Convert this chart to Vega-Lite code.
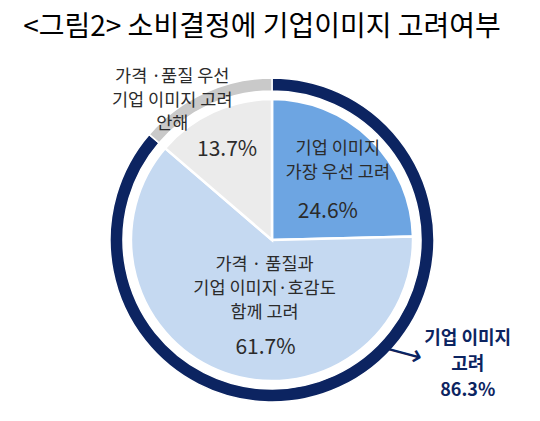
{
  "$schema": "https://vega.github.io/schema/vega-lite/v6.json",
  "autosize": {"type": "none"},
  "width": 536,
  "height": 362,
  "padding": {"left": 4, "top": 59, "right": 0, "bottom": 0},
  "title": {
    "text": "<그림2> 소비결정에 기업이미지 고려여부",
    "font": "Noto Sans CJK KR",
    "fontSize": 28,
    "fontWeight": "normal",
    "color": "#000000",
    "anchor": "middle",
    "baseline": "alphabetic",
    "dx": -10,
    "dy": 27,
    "offset": 22
  },
  "datasets": {
    "slices": [
      {"group": "기업 이미지 가장 우선 고려", "share": 24.6, "order": 1, "label": "기업 이미지\n가장 우선 고려", "pct": "24.6%"},
      {"group": "가격·품질과 기업 이미지·호감도 함께 고려", "share": 61.7, "order": 2, "label": "가격 · 품질과\n기업 이미지·호감도\n함께 고려", "pct": "61.7%"},
      {"group": "가격·품질 우선 기업 이미지 고려 안해", "share": 13.7, "order": 3, "label": "가격 ·품질 우선\n기업 이미지 고려\n안해", "pct": "13.7%"}
    ],
    "ring": [
      {"group": "기업 이미지 고려", "share": 86.3, "order": 1, "label": "기업 이미지\n고려\n86.3%"},
      {"group": "기업 이미지 고려 안해", "share": 13.7, "order": 2, "label": ""}
    ]
  },
  "layer": [
    {
      "data": {"name": "ring"},
      "mark": {"type": "arc", "outerRadius": 162, "innerRadius": 149, "stroke": "#ffffff", "strokeWidth": 1.5},
      "encoding": {
        "theta": {"field": "share", "type": "quantitative", "stack": true},
        "order": {"field": "order"},
        "color": {
          "field": "group",
          "type": "nominal",
          "scale": {
            "domain": ["기업 이미지 가장 우선 고려", "가격·품질과 기업 이미지·호감도 함께 고려", "가격·품질 우선 기업 이미지 고려 안해", "기업 이미지 고려", "기업 이미지 고려 안해"],
            "range": ["#6da5e2", "#c5d9f1", "#ebebeb", "#0c2461", "#c9c9c9"]
          },
          "legend": null
        }
      }
    },
    {
      "data": {"name": "slices"},
      "mark": {"type": "arc", "outerRadius": 141, "stroke": "#ffffff", "strokeWidth": 2.5},
      "encoding": {
        "theta": {"field": "share", "type": "quantitative", "stack": true},
        "order": {"field": "order"},
        "color": {
          "field": "group",
          "type": "nominal",
          "scale": {
            "domain": ["기업 이미지 가장 우선 고려", "가격·품질과 기업 이미지·호감도 함께 고려", "가격·품질 우선 기업 이미지 고려 안해", "기업 이미지 고려", "기업 이미지 고려 안해"],
            "range": ["#6da5e2", "#c5d9f1", "#ebebeb", "#0c2461", "#c9c9c9"]
          },
          "legend": null
        }
      }
    },
    {
      "data": {"name": "slices"},
      "mark": {"type": "text", "radius": 100, "dx": -4, "dy": -19},
      "encoding": {
        "theta": {"field": "share", "type": "quantitative", "stack": true},
        "order": {"field": "order"},
        "detail": {"field": "group"},
        "text": {"condition": {"test": "datum.order === 1", "field": "label"}, "value": ""}
      }
    },
    {
      "data": {"name": "slices"},
      "mark": {"type": "text", "radius": 60, "dx": 14, "dy": 15, "fontSize": 21},
      "encoding": {
        "theta": {"field": "share", "type": "quantitative", "stack": true},
        "order": {"field": "order"},
        "detail": {"field": "group"},
        "text": {"condition": {"test": "datum.order === 1", "field": "pct"}, "value": ""}
      }
    },
    {
      "data": {"name": "slices"},
      "mark": {"type": "text", "radius": 49, "dx": 9, "dy": -21},
      "encoding": {
        "theta": {"field": "share", "type": "quantitative", "stack": true},
        "order": {"field": "order"},
        "detail": {"field": "group"},
        "text": {"condition": {"test": "datum.order === 2", "field": "label"}, "value": ""}
      }
    },
    {
      "data": {"name": "slices"},
      "mark": {"type": "text", "radius": 49, "dx": 10, "dy": 62, "fontSize": 21},
      "encoding": {
        "theta": {"field": "share", "type": "quantitative", "stack": true},
        "order": {"field": "order"},
        "detail": {"field": "group"},
        "text": {"condition": {"test": "datum.order === 2", "field": "pct"}, "value": ""}
      }
    },
    {
      "data": {"name": "slices"},
      "mark": {"type": "text", "radius": 160, "dx": -33, "dy": -17.5, "lineHeight": 23.5},
      "encoding": {
        "theta": {"field": "share", "type": "quantitative", "stack": true},
        "order": {"field": "order"},
        "detail": {"field": "group"},
        "text": {"condition": {"test": "datum.order === 3", "field": "label"}, "value": ""}
      }
    },
    {
      "data": {"name": "slices"},
      "mark": {"type": "text", "radius": 98, "dx": -4, "dy": -1, "fontSize": 21},
      "encoding": {
        "theta": {"field": "share", "type": "quantitative", "stack": true},
        "order": {"field": "order"},
        "detail": {"field": "group"},
        "text": {"condition": {"test": "datum.order === 3", "field": "pct"}, "value": ""}
      }
    },
    {
      "data": {"name": "ring"},
      "mark": {"type": "text", "radius": 100, "dx": 154, "dy": 8.5, "fontWeight": "bold", "fontSize": 18, "lineHeight": 26, "color": "#0c2461"},
      "encoding": {
        "theta": {"field": "share", "type": "quantitative", "stack": true},
        "order": {"field": "order"},
        "detail": {"field": "group"},
        "text": {"condition": {"test": "datum.order === 1", "field": "label"}, "value": ""}
      }
    },
    {
      "data": {"name": "ring"},
      "mark": {"type": "text", "radius": 100, "dx": 90, "dy": -1.3, "angle": 15, "font": "DejaVu Sans", "fontSize": 30, "color": "#0c2461"},
      "encoding": {
        "theta": {"field": "share", "type": "quantitative", "stack": true},
        "order": {"field": "order"},
        "detail": {"field": "group"},
        "text": {"condition": {"test": "datum.order === 1", "value": "⟶"}, "value": ""}
      }
    }
  ],
  "config": {
    "view": {"stroke": null},
    "text": {"font": "Noto Sans CJK KR", "fontSize": 17.5, "color": "#2b2b2b", "lineBreak": "\n", "lineHeight": 24}
  }
}
